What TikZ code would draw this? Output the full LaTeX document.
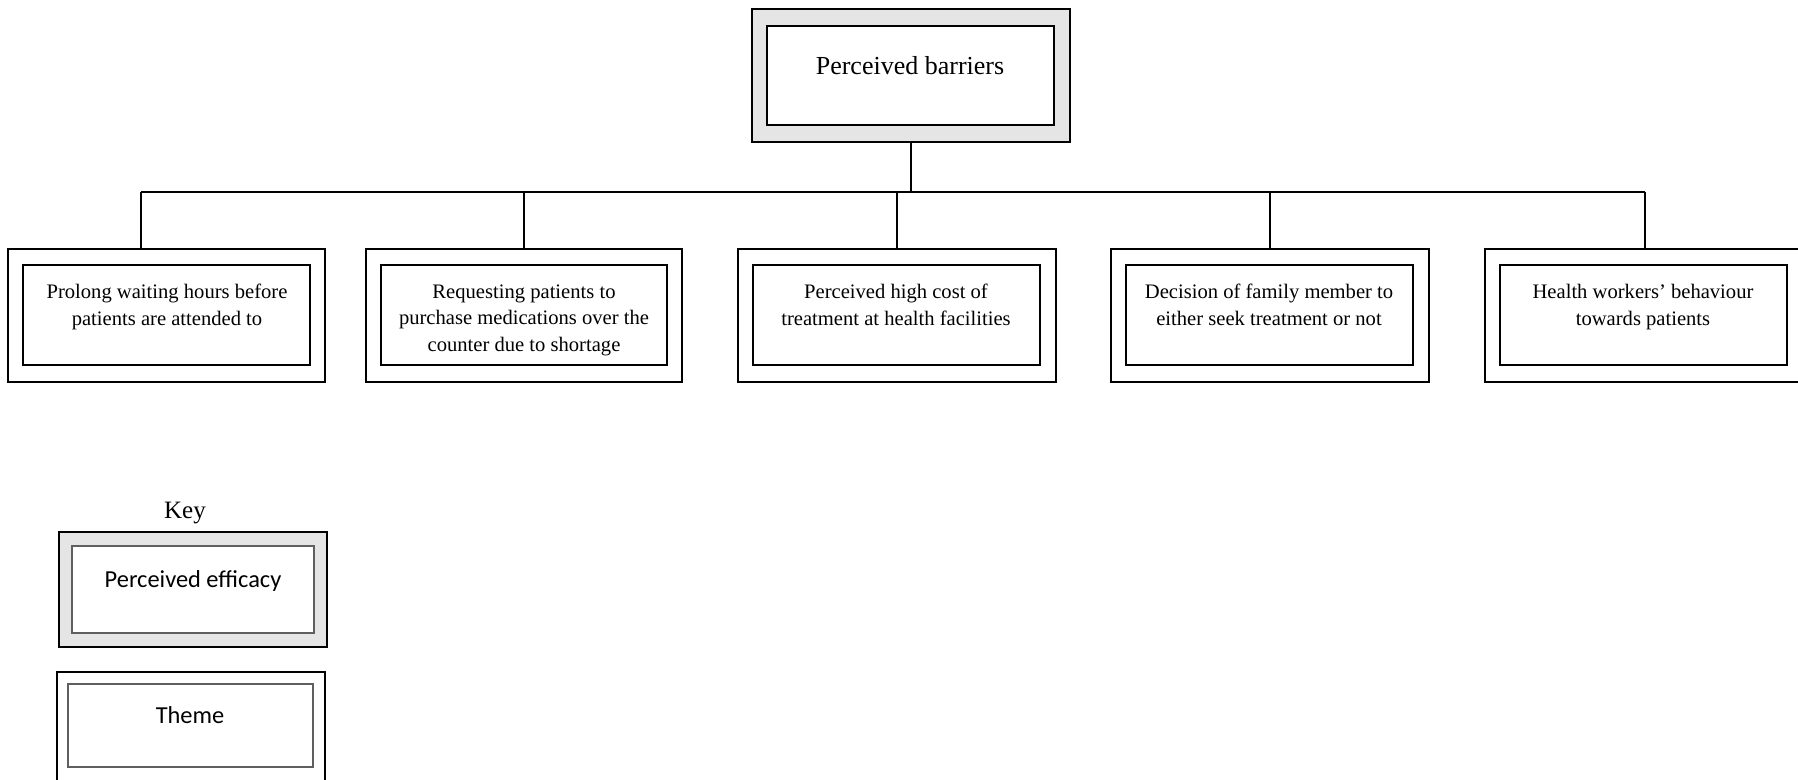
\documentclass[tikz,border=0pt]{standalone}
\usepackage{fontspec}
\setmainfont{Liberation Serif}
\newfontfamily\keyfont{Carlito}
\usetikzlibrary{fit}

\definecolor{bandgrey}{RGB}{229,229,229}
\definecolor{keyedge}{RGB}{95,95,95}

\tikzset{
  outerbox/.style={draw=black, line width=1pt, inner sep=0pt},
  efficacyouter/.style={outerbox, fill=bandgrey},
  innerbox/.style={draw=black, line width=1pt, inner sep=0pt, fill=white},
  keyinner/.style={draw=keyedge, line width=1.1pt, inner sep=0pt, fill=white},
  themetext/.style={inner sep=0pt, align=center, anchor=north,
    font=\fontsize{10.3}{13.4}\selectfont},
  link/.style={draw=black, line width=0.9pt},
}

\begin{document}
\begin{tikzpicture}[x=0.5pt, y=-0.5pt]
\clip (0,0) rectangle (1798,780);

% ---- top concept ----
\node[efficacyouter, fit={(752,9)(1070,142)}] (top) {};
\node[innerbox, fit={(767,26)(1054,125)}] (topin) {};
\node[inner sep=0pt, anchor=base, font=\fontsize{13}{15}\selectfont] (toptxt) at (910,75) {Perceived barriers};

% ---- themes ----
\node[outerbox, fit={(8,249)(325,382)}] (o1) {};
\node[innerbox, fit={(23,265)(310,365)}] (i1) {};
\node[themetext] (t1) at (167,284) {Prolong waiting hours before\\patients are attended to};

\node[outerbox, fit={(366,249)(682,382)}] (o2) {};
\node[innerbox, fit={(381,265)(667,365)}] (i2) {};
\node[themetext] (t2) at (524,284) {Requesting patients to\\purchase medications over the\\counter due to shortage};

\node[outerbox, fit={(738,249)(1056,382)}] (o3) {};
\node[innerbox, fit={(753,265)(1040,365)}] (i3) {};
\node[themetext] (t3) at (896,284) {Perceived high cost of\\treatment at health facilities};

\node[outerbox, fit={(1111,249)(1429,382)}] (o4) {};
\node[innerbox, fit={(1126,265)(1413,365)}] (i4) {};
\node[themetext] (t4) at (1269,284) {Decision of family member to\\either seek treatment or not};

\node[outerbox, fit={(1485,249)(1805,382)}] (o5) {};
\node[innerbox, fit={(1500,265)(1787,365)}] (i5) {};
\node[themetext] (t5) at (1643,284) {Health workers’ behaviour\\towards patients};

% ---- connectors ----
\coordinate (busL) at (141,192);
\coordinate (busR) at (o5.north |- busL);
\draw[link] (busL) -- (busR);
\draw[link] (top.south) -- (top.south |- busL);
\draw[link] (busL) -- (busL |- o1.north);
\draw[link] (o2.north |- busL) -- (o2.north);
\draw[link] (o3.north |- busL) -- (o3.north);
\draw[link] (o4.north |- busL) -- (o4.north);
\draw[link] (busR) -- (o5.north);

% ---- key ----
\node[inner sep=0pt, anchor=base, font=\fontsize{12.5}{15}\selectfont] (keytitle) at (185,518) {Key};

\node[efficacyouter, fit={(59,532)(327,647)}] (k1) {};
\node[keyinner, fit={(72,546)(314,633)}] (k1in) {};
\node[inner sep=0pt, anchor=base, font=\keyfont\fontsize{12.2}{14}\selectfont] (k1txt) at (193,587) {Perceived efficacy};

\node[outerbox, fit={(57,672)(325,790)}] (k2) {};
\node[keyinner, line width=1.4pt, fit={(68,684)(313,767)}] (k2in) {};
\node[inner sep=0pt, anchor=base, font=\keyfont\fontsize{12.2}{14}\selectfont] (k2txt) at (190,723) {Theme};

\end{tikzpicture}
\end{document}
